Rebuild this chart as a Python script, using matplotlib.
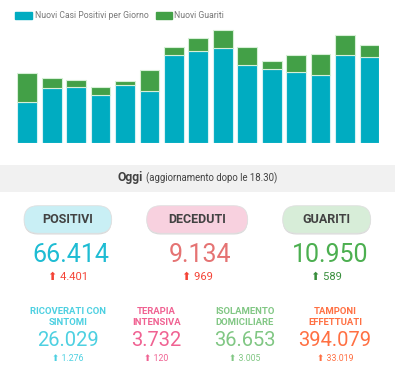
import matplotlib
matplotlib.use("Agg")
import matplotlib.pyplot as plt
from matplotlib.patches import Rectangle, FancyBboxPatch

plt.rcParams['font.family'] = ['Roboto', 'DejaVu Sans']

# daily series (last 15 days)
nuovi_positivi = [2116, 2795, 2853, 2470, 2989, 2648, 4480, 4670, 4821, 3957, 3780, 3612, 3491, 4492, 4401]
nuovi_guariti = [1440, 527, 369, 414, 192, 1084, 415, 689, 943, 952, 408, 894, 1036, 999, 589]
legend_labels = ["Nuovi Casi Positivi per Giorno", "Nuovi Guariti"]

# today's summary
main_labels = ["POSITIVI", "DECEDUTI", "GUARITI"]
main_values = ["66.414", "9.134", "10.950"]
main_deltas = ["4.401", "969", "589"]
sub_labels = ["RICOVERATI CON\nSINTOMI", "TERAPIA\nINTENSIVA", "ISOLAMENTO\nDOMICILIARE", "TAMPONI\nEFFETTUATI"]
sub_values = ["26.029", "3.732", "36.653", "394.079"]
sub_deltas = ["1.276", "120", "3.005", "33.019"]

W, H = 395, 380
fig = plt.figure(figsize=(W / 100, H / 100), dpi=100)

# overlay axes in pixel coordinates
bg = fig.add_axes([0, 0, 1, 1])
bg.set_xlim(0, W)
bg.set_ylim(H, 0)
bg.axis('off')

# bar chart
ax = fig.add_axes([17.3 / W, 1 - 143.3 / H, (379.3 - 17.3) / W, (143.3 - 20) / H])
x = range(len(nuovi_positivi))
ax.bar(x, nuovi_positivi, width=0.81, color='#00ACC1', edgecolor='#d6f2f4', linewidth=0.8)
ax.bar(x, nuovi_guariti, width=0.81, bottom=nuovi_positivi, color='#43A047', edgecolor='#d6efd6', linewidth=0.8)
ax.set_xlim(-0.405, 14.405)
ax.set_ylim(0, 6270)
ax.axis('off')

# legend
bg.add_patch(Rectangle((15, 12), 16.5, 6.8, color='#00ACC1'))
bg.text(35, 15.6, legend_labels[0], fontsize=6.2, color='#777777', va='center')
bg.add_patch(Rectangle((155.5, 12), 16.3, 6.8, color='#43A047'))
bg.text(174.5, 15.6, legend_labels[1], fontsize=6.2, color='#777777', va='center')

# "Oggi" band
bg.add_patch(Rectangle((0, 165), W, 26.7, color='#f1f1f1', lw=0))
bg.text(142.5, 178, "Oggi", fontsize=8.7, fontweight='bold', color='#424242', ha='right', va='center')
bg.text(146, 178.3, "(aggiornamento dopo le 18.30)", fontsize=6.9, color='#424242', ha='left', va='center')

# pills
pills = [(24, 111.7), (146.7, 247.7), (282.7, 370.7)]
pill_colors = ['#c9eff5', '#f8d1df', '#d7edd8']
num_colors = ['#1ebcd3', '#e57373', '#4caf50']
delta_colors = ['#f44336', '#f44336', '#388e3c']
for (x0, x1), lab, val, d, pc, nc, dc in zip(pills, main_labels, main_values, main_deltas,
                                             pill_colors, num_colors, delta_colors):
    h = 27.6
    y0 = 205.7
    bg.add_patch(FancyBboxPatch((x0, y0 + 1.2), x1 - x0, h, boxstyle="round,pad=0,rounding_size=13.8",
                                fc='#bdbdbd', ec='none', alpha=0.6))
    bg.add_patch(FancyBboxPatch((x0, y0), x1 - x0, h, boxstyle="round,pad=0,rounding_size=13.8",
                                fc=pc, ec='#e0e0e0', lw=0.6))
    cx = (x0 + x1) / 2
    bg.text(cx, y0 + h / 2, lab, fontsize=9, fontweight='bold', color='#424242', ha='center', va='center')
    bg.text(cx + 3, 255.5, val, fontsize=18, color=nc, ha='center', va='center')
    bg.text(cx, 277.5, "⬆ " + d, fontsize=8, color=dc, ha='center', va='center')

# bottom row
sub_x = [68.2, 156.5, 244.5, 335]
sub_colors = ['#4dd0e1', '#f06292', '#81c784', '#ff7043']
for cx, lab, val, d, c in zip(sub_x, sub_labels, sub_values, sub_deltas, sub_colors):
    bg.text(cx, 317, lab, fontsize=6.8, fontweight='bold', color=c, ha='center', va='center',
            linespacing=1.35)
    bg.text(cx, 341, val, fontsize=14.5, color=c, ha='center', va='center')
    bg.text(cx, 358.8, "⬆ " + d, fontsize=6.3, color=c, ha='center', va='center')

fig.savefig("out.png", dpi=100, facecolor='white')
